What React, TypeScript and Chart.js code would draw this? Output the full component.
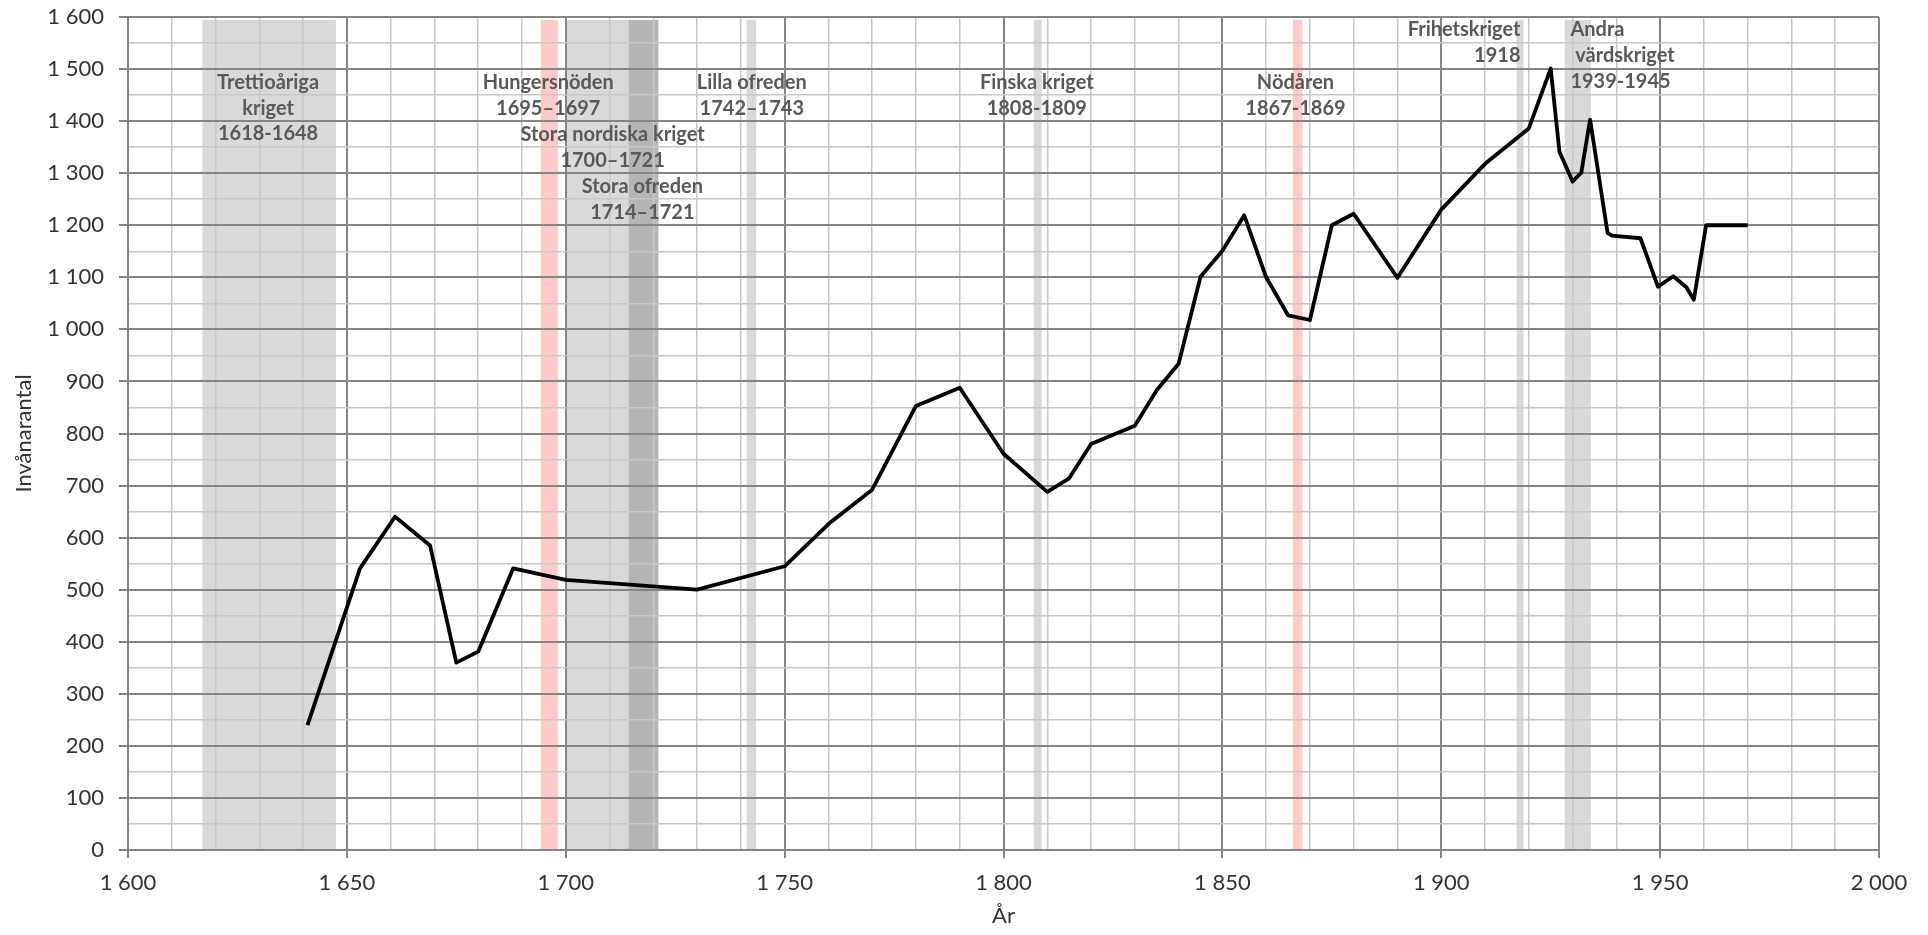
import React, { useEffect, useRef } from 'react';
import { Chart, registerables } from 'chart.js';

Chart.register(...registerables);

// Population series (year -> inhabitants)
const years = [1641, 1653, 1661, 1669, 1675, 1680, 1688, 1700, 1730, 1750, 1760, 1770, 1780, 1790, 1800, 1810, 1815, 1820, 1830, 1835, 1840, 1845, 1850, 1855, 1860, 1865, 1870, 1875, 1880, 1890, 1900, 1910, 1920, 1925, 1927, 1930, 1932, 1934, 1938, 1939, 1945.5, 1949.5, 1953, 1956, 1957.7, 1960.5, 1970];
const population = [240, 541, 640, 585, 360, 381, 541, 519, 500, 545, 626, 692, 853, 888, 761, 688, 714, 780, 815, 883, 934, 1101, 1151, 1219, 1100, 1027, 1018, 1200, 1222, 1099, 1230, 1318, 1386, 1501, 1341, 1284, 1301, 1403, 1185, 1180, 1175, 1082, 1102, 1081, 1057, 1200, 1200];

// Historical periods drawn as shaded bands
const bandNames = ['Trettioåriga kriget', 'Hungersnöden', 'Stora nordiska kriget', 'Stora ofreden', 'Lilla ofreden', 'Finska kriget', 'Nödåren', 'Frihetskriget', 'Andra världskriget'];
const bandStart = [1617, 1694.3, 1700.1, 1714.4, 1741.3, 1806.9, 1866.1, 1917.2, 1928.2];
const bandEnd = [1647.5, 1698.2, 1721.2, 1721.1, 1743.5, 1808.7, 1868.3, 1918.8, 1934.2];
const bandKind = ['war', 'famine', 'war', 'occupation', 'war', 'war', 'famine', 'war', 'war'];

// Event label texts
const labelLines = [
  ['Trettioåriga', 'kriget', '1618-1648'],
  ['Hungersnöden', '1695–1697'],
  ['Stora nordiska kriget', '1700–1721'],
  ['Stora ofreden', '1714–1721'],
  ['Lilla ofreden', '1742–1743'],
  ['Finska kriget', '1808-1809'],
  ['Nödåren', '1867-1869'],
  ['Frihetskriget', '1918'],
  ['Andra', ' värdskriget', '1939-1945'],
];
// label anchors (year, value of first baseline) and alignment
const labelYear = [1632, 1696, 1710.7, 1717.5, 1742.5, 1807.6, 1866.7, 1918.1, 1929.5];
const labelValue = [1462, 1462, 1362, 1261, 1462, 1462, 1462, 1563, 1563];
const labelAlign = ['center', 'center', 'center', 'center', 'center', 'center', 'center', 'right', 'left'];

const bandColors: Record<string, string> = {
  war: '#d9d9d9',
  famine: '#ffcaca',
  occupation: '#b5b5b5',
};

const fmt = (v: number) => {
  if (v >= 1000) {
    const th = Math.floor(v / 1000);
    const rest = String(v % 1000).padStart(3, '0');
    return `${th} ${rest}`;
  }
  return String(v);
};

const MAJOR = '#858585';
const MINOR = '#c8c8c8';

const bandsPlugin = {
  id: 'bands',
  beforeDraw(chart: any) {
    const { ctx, chartArea } = chart;
    const x = chart.scales.x;
    ctx.save();
    for (let i = 0; i < bandNames.length; i++) {
      const x0 = x.getPixelForValue(bandStart[i]);
      const x1 = x.getPixelForValue(bandEnd[i]);
      ctx.fillStyle = bandColors[bandKind[i]];
      ctx.fillRect(x0, chartArea.top + 3, x1 - x0, chartArea.bottom - chartArea.top - 3);
    }
    ctx.restore();
  },
};

const labelsPlugin = {
  id: 'eventLabels',
  afterDraw(chart: any) {
    const { ctx } = chart;
    const x = chart.scales.x;
    const y = chart.scales.y;
    ctx.save();
    ctx.font = 'bold 20px Lato';
    ctx.fillStyle = '#595959';
    ctx.textBaseline = 'alphabetic';
    for (let i = 0; i < labelLines.length; i++) {
      ctx.textAlign = labelAlign[i] as CanvasTextAlign;
      const px = x.getPixelForValue(labelYear[i]);
      const py = y.getPixelForValue(labelValue[i]);
      labelLines[i].forEach((t, j) => ctx.fillText(t, px, py + j * 25.7));
    }
    ctx.restore();
  },
};

export default function App() {
  const ref = useRef<HTMLCanvasElement | null>(null);
  useEffect(() => {
    if (!ref.current) return;
    const chart = new Chart(ref.current, {
      type: 'line',
      data: {
        datasets: [
          {
            label: 'Invånarantal',
            data: years.map((yr, i) => ({ x: yr, y: population[i] })),
            borderColor: '#000000',
            borderWidth: 3.8,
            pointRadius: 0,
            tension: 0,
            borderJoinStyle: 'round',
            fill: false,
          },
        ],
      },
      options: {
        responsive: false,
        animation: false,
        events: [],
        layout: { padding: { top: 17, right: 49, left: 0, bottom: 0 } },
        plugins: {
          legend: { display: false },
          tooltip: { enabled: false },
        },
        scales: {
          x: {
            type: 'linear',
            min: 1600,
            max: 2000,
            afterFit: (s: any) => { s.height = 85; },
            ticks: {
              stepSize: 10,
              autoSkip: false,
              maxRotation: 0,
              padding: 12,
              color: '#333333',
              font: { family: 'Lato', size: 22 },
              callback: (v: any) => (Number(v) % 50 === 0 ? fmt(Number(v)) : ''),
            },
            grid: {
              color: (c: any) => (c.tick && c.tick.value % 50 === 0 ? MAJOR : MINOR),
              lineWidth: (c: any) => (c.tick && c.tick.value % 50 === 0 ? 2 : 1.5),
              tickColor: (c: any) => (c.tick && c.tick.value % 50 === 0 ? MAJOR : 'rgba(0,0,0,0)'),
              tickLength: 8,
            },
            border: { display: true, color: MAJOR, width: 2 },
            title: {
              display: true,
              text: 'År',
              color: '#333333',
              font: { family: 'Lato', size: 22 },
              padding: { top: 0, bottom: 6 },
            },
          },
          y: {
            type: 'linear',
            min: 0,
            max: 1600,
            afterFit: (s: any) => { s.width = 128; s.paddingTop = 0; s.paddingBottom = 0; },
            ticks: {
              stepSize: 50,
              autoSkip: false,
              padding: 15,
              color: '#333333',
              font: { family: 'Lato', size: 22 },
              callback: (v: any) => (Number(v) % 100 === 0 ? fmt(Number(v)) : ''),
            },
            grid: {
              color: (c: any) => (c.tick && c.tick.value % 100 === 0 ? MAJOR : MINOR),
              lineWidth: (c: any) => (c.tick && c.tick.value % 100 === 0 ? 2 : 1.5),
              tickColor: (c: any) => (c.tick && c.tick.value % 100 === 0 ? MAJOR : 'rgba(0,0,0,0)'),
              tickLength: 9,
            },
            border: { display: true, color: MAJOR, width: 2 },
            title: {
              display: true,
              text: 'Invånarantal',
              color: '#333333',
              font: { family: 'Lato', size: 22 },
              padding: { top: 11, bottom: 0 },
            },
          },
        },
      },
      plugins: [bandsPlugin, labelsPlugin],
    } as any);
    return () => chart.destroy();
  }, []);
  return (
    <div style={{ position: 'fixed', left: 0, top: 0, width: 1928, height: 935, background: '#ffffff' }}>
      <canvas ref={ref} width={1928} height={935} style={{ width: 1928, height: 935, display: 'block' }} />
    </div>
  );
}
